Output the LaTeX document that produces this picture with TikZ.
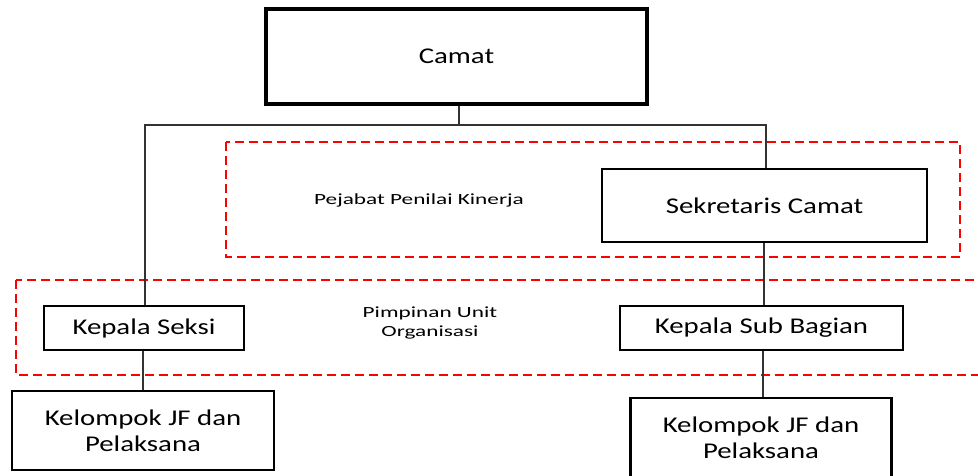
\documentclass[tikz,border=0pt]{standalone}
\usepackage{fontspec}
\setmainfont{Carlito}[FakeStretch=1.28]
\newfontfamily\notefont{Carlito}[FakeStretch=1.5]
\begin{document}
\begin{tikzpicture}[x=1pt,y=-1pt,
  orgbox/.style={draw=black,line width=2.7pt,fill=white,inner sep=0pt,align=center,
    font=\fontsize{22.5}{26}\selectfont},
  conn/.style={draw=black!80,line width=1.3pt},
  grp/.style={draw=red,line width=2.8pt,dash pattern=on 9pt off 5pt},
  note/.style={inner sep=0pt,align=center,font=\notefont\fontsize{15.5}{19.5}\selectfont}]
\clip (0,0) rectangle (978,475);
\fill[white] (0,0) rectangle (978,475);
% groups
\draw[grp] (226,142) rectangle (960,257);
\draw[grp] (16,280) rectangle (995,375);
% nodes
\node[orgbox,line width=3.2pt,minimum width=381pt,minimum height=95pt] (camat) at (456.5,56.5) {Camat};
\node[orgbox,minimum width=325pt,minimum height=73pt] (sek) at (764.5,205.5) {Sekretaris Camat};
\node[orgbox,minimum width=200pt,minimum height=44pt] (kseksi) at (144,328) {Kepala Seksi};
\node[orgbox,minimum width=283pt,minimum height=44pt] (ksb) at (761.5,328) {Kepala Sub Bagian};
\node[orgbox,minimum width=262pt,minimum height=79pt] (kjf1) at (143,430.5) {Kelompok JF dan\\Pelaksana};
\node[orgbox,minimum width=261pt,minimum height=80pt] (kjf2) at (761,438) {Kelompok JF dan\\Pelaksana};
\node[note] (pej) at (419,200) {Pejabat Penilai Kinerja};
\node[note] (pim) at (430,323) {Pimpinan Unit\\Organisasi};
% connectors
\coordinate (split) at (459,125);
\draw[conn] (camat.south -| split) -- (split);
\draw[conn] (split) -- (145,125) coordinate (lt) -- (lt |- kseksi.north);
\draw[conn] (split) -- (766,125) coordinate (rt) -- (rt |- sek.north);
\draw[conn] (sek.south -| 764,0) -- (764,0 |- ksb.north);
\draw[conn] (kseksi.south -| 143,0) -- (143,0 |- kjf1.north);
\draw[conn] (ksb.south -| 763,0) -- (763,0 |- kjf2.north);
\end{tikzpicture}
\end{document}
